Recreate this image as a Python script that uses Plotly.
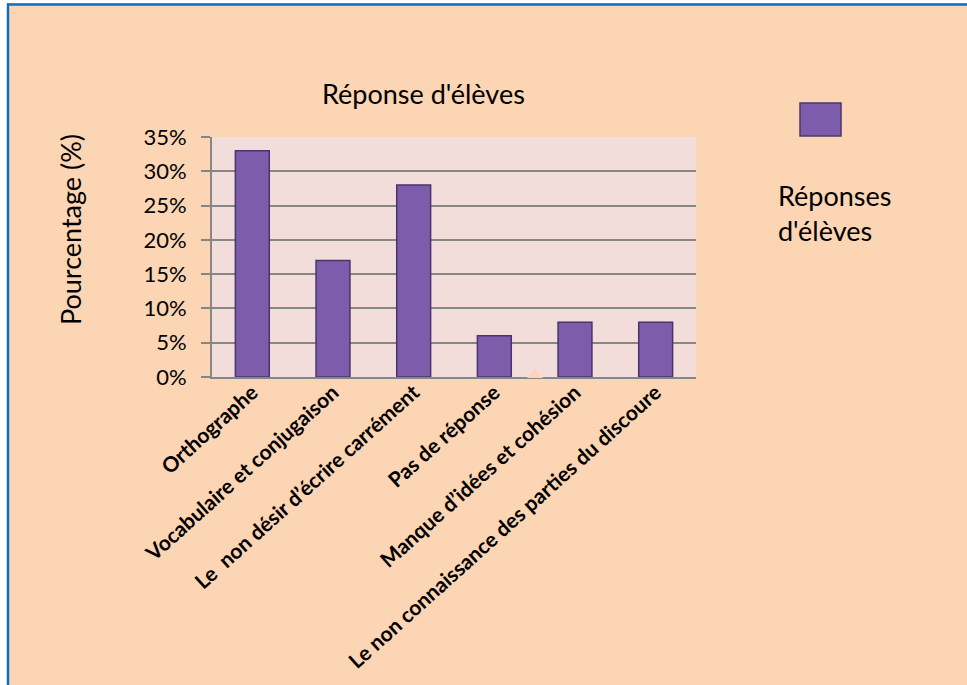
import plotly.graph_objects as go

categories = [
    "Orthographe",
    "Vocabulaire et conjugaison",
    "Le  non désir d’écrire carrément",
    "Pas de réponse",
    "Manque d’idées et cohésion",
    "Le non connaissance des parties du discoure",
]
values = [0.33, 0.17, 0.28, 0.06, 0.08, 0.08]
series_name = "Réponses d'élèves"
y_ticks = [0, 0.05, 0.10, 0.15, 0.20, 0.25, 0.30, 0.35]
y_tick_labels = ["0%", "5%", "10%", "15%", "20%", "25%", "30%", "35%"]

W, H = 967, 685
L, R, T, B = 212, 967 - 696, 137, 685 - 377
PW, PH = W - L - R, H - T - B


def px(x):
    return (x - L) / PW


def py(y):
    return (H - B - y) / PH


FONT = "Lato, 'Open Sans', sans-serif"
PEACH = "#FCD5B5"
BAR = "#7D5DAB"

fig = go.Figure()
fig.add_trace(go.Bar(
    x=categories, y=values, name=series_name,
    marker=dict(color=BAR, line=dict(color="#46356A", width=1.5)),
    showlegend=False,
))

shapes = [
    # white margin strips outside the framed area
    dict(type="rect", xref="paper", yref="paper", x0=px(-5), x1=px(7), y0=py(H + 5), y1=py(-5),
         fillcolor="white", line=dict(width=0), layer="above"),
    dict(type="rect", xref="paper", yref="paper", x0=px(-5), x1=px(W + 5), y0=py(3), y1=py(-5),
         fillcolor="white", line=dict(width=0), layer="above"),
    # blue frame
    dict(type="line", xref="paper", yref="paper", x0=px(8), x1=px(8), y0=py(3.5), y1=py(H + 5),
         line=dict(color="#0A6FC2", width=2.5), layer="above"),
    dict(type="line", xref="paper", yref="paper", x0=px(7), x1=px(W + 5), y0=py(4.5), y1=py(4.5),
         line=dict(color="#0A6FC2", width=2.5), layer="above"),
    # small notch on the category axis
    dict(type="path", xref="paper", yref="paper",
         path=f"M {px(527)},{py(378)} L {px(535)},{py(369)} L {px(543)},{py(378)} Z",
         fillcolor=PEACH, line=dict(width=0), layer="above"),
    # legend swatch
    dict(type="rect", xref="paper", yref="paper", x0=px(800), x1=px(841), y0=py(136), y1=py(103),
         fillcolor=BAR, line=dict(color="#4A3868", width=1.5), layer="above"),
]

annotations = [
    dict(text="Réponse d'élèves", xref="paper", yref="paper", x=px(423), y=py(93),
         showarrow=False, font=dict(family=FONT, size=27, color="black"),
         xanchor="center", yanchor="middle"),
    dict(text="Réponses<br>d'élèves", xref="paper", yref="paper", x=px(776), y=py(213),
         showarrow=False, align="left", font=dict(family=FONT, size=27, color="black"),
         xanchor="left", yanchor="middle"),
    dict(text="Pourcentage (%)", xref="paper", yref="paper", x=px(70), y=py(230),
         showarrow=False, textangle=-90, font=dict(family=FONT, size=27, color="black"),
         xanchor="center", yanchor="middle"),
]

fig.update_layout(
    width=W, height=H,
    margin=dict(l=L, r=R, t=T, b=B, pad=0, autoexpand=False),
    paper_bgcolor=PEACH,
    plot_bgcolor="#F2DDDB",
    bargap=0.58,
    shapes=shapes,
    annotations=annotations,
    font=dict(family=FONT, color="black"),
)
fig.update_xaxes(
    automargin=False,
    tickangle=-42,
    tickfont=dict(family=FONT, size=21, color="black", weight="bold"),
    showline=True, linecolor="#868686", linewidth=2,
    ticks="", showgrid=False,
    ticklabelstandoff=-7,
)
fig.update_yaxes(
    automargin=False,
    range=[0, 0.35],
    tickvals=y_ticks, ticktext=y_tick_labels,
    tickfont=dict(family=FONT, size=22, color="black"),
    showgrid=True, gridcolor="#868686", gridwidth=2,
    showline=True, linecolor="#868686", linewidth=2,
    ticks="outside", ticklen=9, tickcolor="#868686", tickwidth=2,
    ticklabelstandoff=10,
    zeroline=False,
)

fig.write_html("out.html", config={"displayModeBar": False},
               post_script="document.body.style.margin='0';")
